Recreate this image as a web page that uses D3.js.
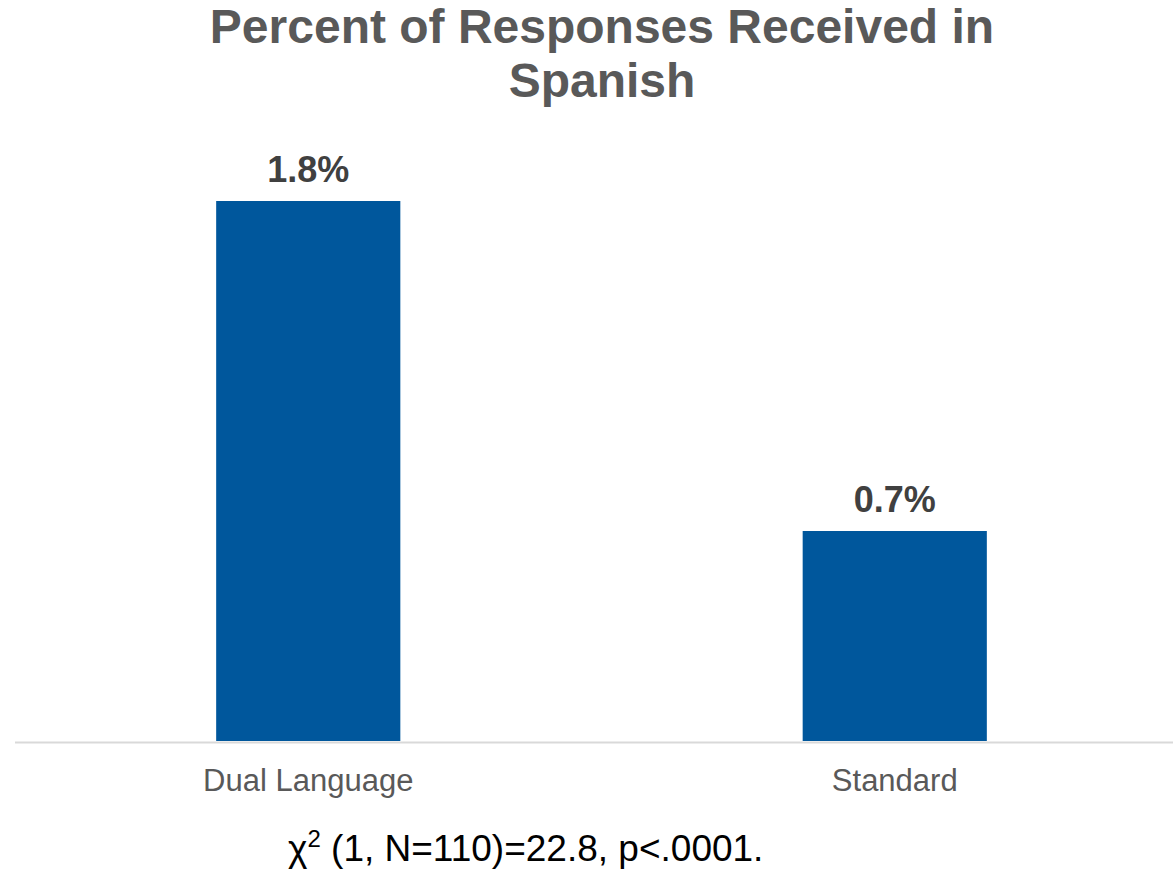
<!DOCTYPE html>
<html>
<head>
<meta charset="utf-8">
<script src="https://cdn.jsdelivr.net/npm/d3@7"></script>
<style>
  html, body { margin: 0; padding: 0; background: #fff; }
  svg { display: block; font-family: "Liberation Sans", Arial, sans-serif; }
</style>
</head>
<body>
<svg id="chart" width="1173" height="870"></svg>
<script>
const categories = ["Dual Language", "Standard"];
const values = [1.8, 0.7];
const valueLabels = ["1.8%", "0.7%"];
const titleLines = ["Percent of Responses Received in", "Spanish"];
const footnoteMain = " (1, N=110)=22.8, p<.0001.";

const W = 1173, H = 870;
const svg = d3.select("#chart");

const x = d3.scaleBand()
  .domain(categories)
  .range([15, 1188])
  .paddingInner(0.686)
  .paddingOuter(0.343);

const y = d3.scaleLinear().domain([0, 2]).range([741, 141]);

// Title
svg.append("g").selectAll("text")
  .data(titleLines)
  .join("text")
  .attr("x", 602)
  .attr("y", (d, i) => 43 + i * 54)
  .attr("text-anchor", "middle")
  .attr("font-size", 48)
  .attr("font-weight", "bold")
  .attr("fill", "#595959")
  .text(d => d);

// Bars
svg.append("g").selectAll("rect")
  .data(values)
  .join("rect")
  .attr("x", (d, i) => x(categories[i]))
  .attr("y", d => y(d))
  .attr("width", x.bandwidth())
  .attr("height", d => y(0) - y(d))
  .attr("fill", "#00579c");

// Value labels
svg.append("g").selectAll("text")
  .data(values)
  .join("text")
  .attr("x", (d, i) => x(categories[i]) + x.bandwidth() / 2)
  .attr("y", d => y(d) - 19)
  .attr("text-anchor", "middle")
  .attr("font-size", 36)
  .attr("font-weight", "bold")
  .attr("fill", "#404040")
  .text((d, i) => valueLabels[i]);

// Baseline
svg.append("line")
  .attr("x1", 15).attr("x2", W)
  .attr("y1", y(0) + 1.5).attr("y2", y(0) + 1.5)
  .attr("stroke", "#d9d9d9")
  .attr("stroke-width", 2);

// Category axis
const axis = svg.append("g")
  .attr("transform", `translate(0,${y(0)})`)
  .call(d3.axisBottom(x).tickSize(0).tickPadding(0));
axis.select(".domain").remove();
axis.selectAll("text")
  .attr("y", 50)
  .attr("dy", 0)
  .attr("font-size", 31)
  .attr("font-family", "Liberation Sans, Arial, sans-serif")
  .attr("fill", "#595959");

// Footnote
const fn = svg.append("text")
  .attr("x", 288)
  .attr("y", 861)
  .attr("font-size", 37)
  .attr("fill", "#000");
fn.append("tspan").text("χ");
fn.append("tspan").attr("font-size", 24).attr("dy", -14).text("2");
fn.append("tspan").attr("dy", 14).text(footnoteMain);
</script>
</body>
</html>
